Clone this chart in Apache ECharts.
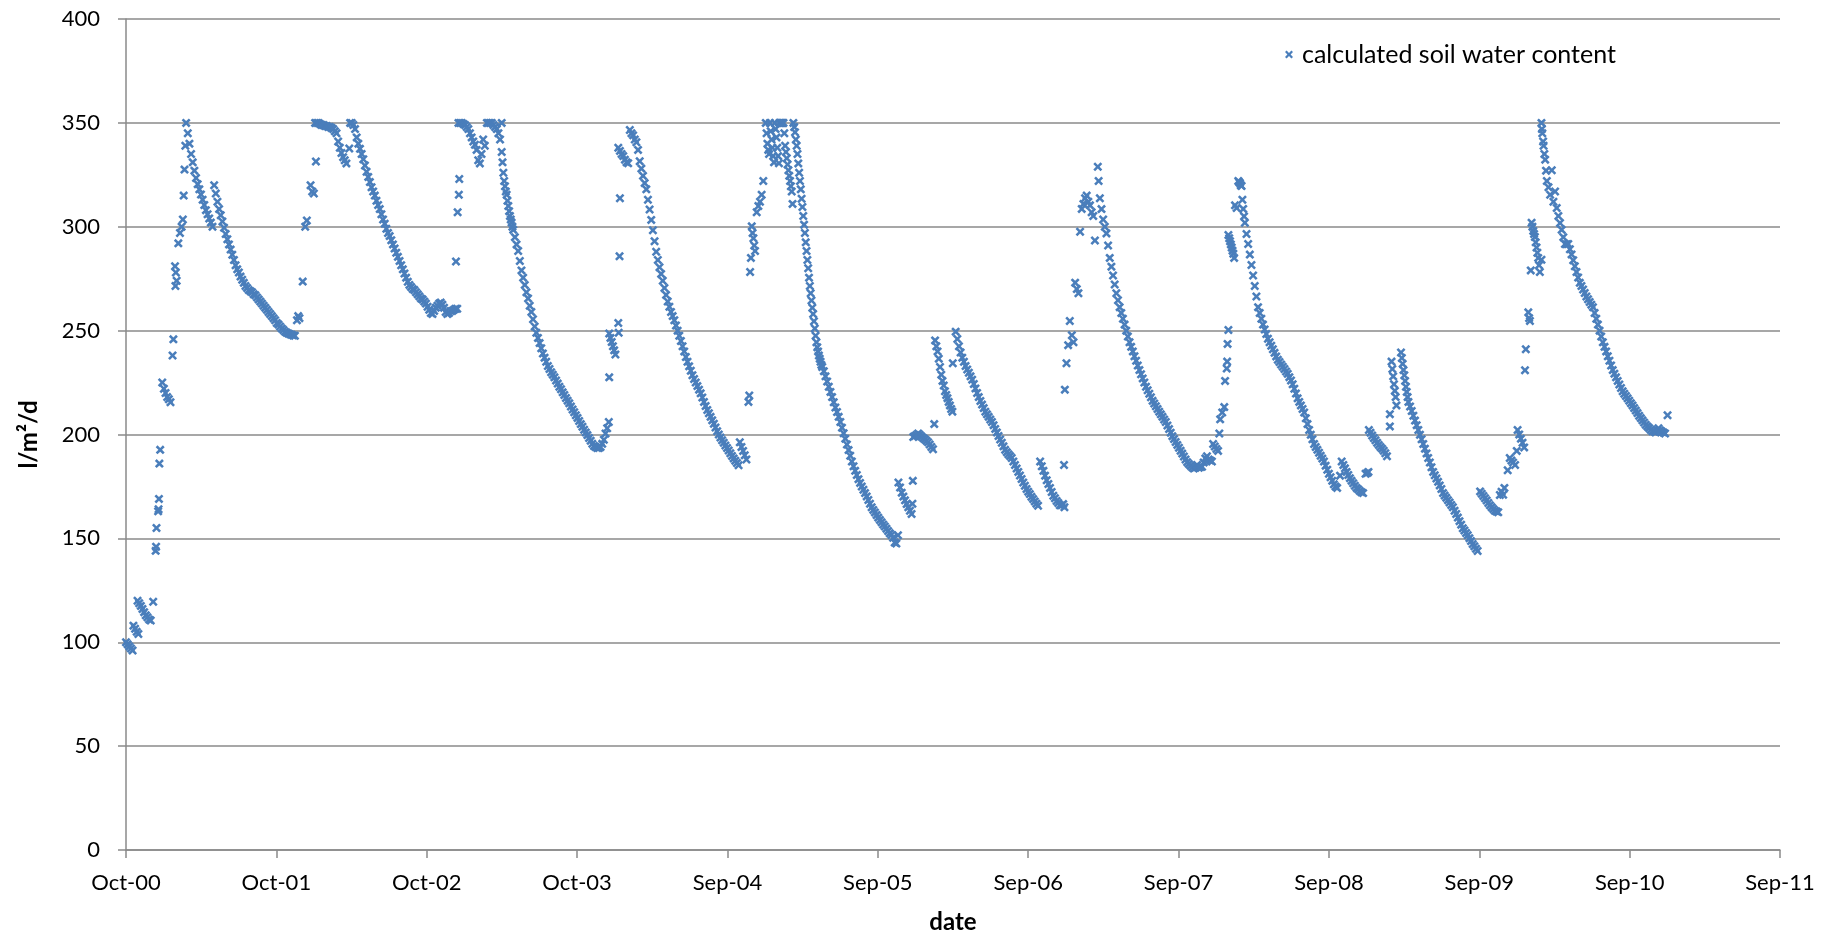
<!DOCTYPE html>
<html>
<head>
<meta charset="utf-8">
<title>calculated soil water content</title>
<script src="https://cdn.jsdelivr.net/npm/echarts@6/dist/echarts.min.js"></script>
<style>
  html, body { margin: 0; padding: 0; background: #ffffff; }
  #chart { width: 1832px; height: 939px; }
</style>
</head>
<body>
<div id="chart"></div>
<script>
// Calculated soil water content (l/m²), one array per hydrological year.
// Each run is [first day, spacing in days, values]; day 0 is 1 Oct 2000.
const wy2001 = [
  [0, 4, [100, 99, 98, 97, 96]],
  [18, 4, [108, 106.5, 105, 104]],
  [28, 4, [120, 118.8, 117.5, 116, 114.5, 113, 112, 111, 110.5]],
  [66, 4, [119.5]],
  [72, 1, [144, 146, 155]],
  [78, 1, [163, 164, 169, 186]],
  [83, 1, [192.6]],
  [88, 4, [225, 222, 220, 218, 217, 215.5]],
  [113, 2, [238, 245.8]],
  [119, 2, [281, 278, 274]],
  [120, 1, [271.5]],
  [127, 4, [292, 297, 300]],
  [138, 2, [303.5, 315, 327.5, 339]],
  [146, 4, [350, 345, 340, 335, 331, 327, 323.5, 320.5, 318, 315.5, 313, 310.5, 308, 306, 304, 302, 300]],
  [214, 4, [320, 316, 312, 308.5, 305.5, 302.5, 299.5, 296.5, 294, 291.5, 289, 286.5, 284, 281.5, 279.5,
            278, 276, 274.5, 273, 271.5, 270.5, 269.5, 269, 268.5, 267.5, 267, 266, 265, 264, 263,
            262, 261, 260, 259, 258, 257, 256, 255, 253.7, 253, 252, 251, 250.3, 249.5, 249,
            248.6, 248.3, 248, 247.7, 247.5]]
];
const wy2002 = [
  [415, 3, [255, 257, 256]],
  [429, 1, [273.6]],
  [435, 4, [300, 303]],
  [448, 4, [320, 317, 316]],
  [461, 1, [331.4]],
  [459, 4, [350, 350, 350, 349.5, 349, 349, 348.5, 348.5, 348, 348, 347.5, 347, 346, 345]],
  [515, 4, [341, 338, 335.5, 333.5, 332, 330.5]],
  [542, 1, [337.7]],
  [544, 4, [350, 350, 349, 347, 343, 340, 337.5, 335, 332.5, 329.5, 326.5, 324, 321.5, 319, 317,
            315, 312.5, 310.5, 308.5, 306, 303.5, 301.5, 299, 297, 295.5, 293.5, 291.5, 289.5, 287.5, 285.5,
            283.5, 281.5, 279.5, 277.5, 275.5, 273.5, 272, 271, 270, 269.5, 268.5, 267.5, 266.5, 265.5, 265,
            264, 263, 261.5, 260, 258.5, 258, 259.5, 261, 262, 263, 263.5, 262.5, 261, 259, 258,
            258.5, 259.5, 259.5, 260, 260.5, 260.5]]
];
const wy2003 = [
  [801, 1, [283.3]],
  [805, 3, [307, 315.4]],
  [809, 1, [323]],
  [807, 4, [350, 350, 350, 349.5, 349, 348, 347, 345, 343, 341, 339.5]],
  [851, 4, [337, 332, 330.5, 335, 342, 339]],
  [876, 4, [350, 350, 350, 350, 349, 348, 347, 345, 342]],
  [912, 1, [350]],
  [912, 2, [336, 331, 326, 322, 319.5, 317, 315.4, 312.5, 310, 307.5, 305.2, 303.5, 302, 300, 298.5]],
  [944, 4, [295, 291.5, 288.3, 283.5, 279, 275.5, 272, 268.5, 265.5, 262, 259, 255.5, 252, 249, 246.5,
            244, 241.5, 239, 237, 235, 233, 231.5, 230, 228.8, 227.5, 226, 224.5, 223, 221.8, 220.3,
            219, 217.6, 216.3, 215, 213.5, 212, 210.7, 209.3, 208, 206.5, 205, 203.7, 202.3, 201, 199.7,
            198.3, 197, 195.5, 194.5, 194, 193.5, 193.5, 194, 195.5, 197.5, 200.5, 203, 206]]
];
const wy2004 = [
  [1173, 1, [227.5]],
  [1173, 3, [248.6, 246.5, 244.5, 242.5, 240.5, 238.5]],
  [1195, 1, [253.7, 249]],
  [1198, 1, [285.8, 313.7]],
  [1195, 4, [338, 336.5, 335, 334, 332.3, 331, 330.6]],
  [1223, 4, [346.6, 345, 344, 342, 340.7, 337]],
  [1247, 4, [331.5, 328, 324.5, 321, 318, 313, 308.3, 303.3, 298.3, 293, 288, 284, 280.5, 277.3, 274,
             270.5, 267.2, 264, 261.5, 259, 257, 255, 252.5, 250, 247.5, 245, 242.5, 240, 237.3, 235,
             232.8, 230.7, 228.5, 226.7, 225, 223.3, 221.6, 219.8, 217.8, 215.7, 213.7, 211.8, 210.2, 208.5, 206.8,
             205.2, 203.4, 201.6, 200, 198.5, 197.2, 196, 194.7, 193.5, 192.3, 191, 189.7, 188.5, 187.4, 186.3,
             185.2]]
];
const wy2005 = [
  [1490, 4, [196.3, 194, 192.1, 190, 188]],
  [1511, 2, [215.7, 218.8, 278.2, 285]],
  [1519, 2, [300.2, 297, 294.5, 291, 288.3]],
  [1531, 4, [307, 310, 312, 315.4, 322]],
  [1553, 2, [350, 345, 340, 337, 335]],
  [1563, 2, [350, 346, 342, 338, 334, 331]],
  [1575, 2, [350, 347, 343, 338, 334, 330.6]],
  [1586, 2, [350, 350, 350, 350, 350, 350]],
  [1598, 2, [345, 339, 336, 333, 330, 327.2, 324.5, 322, 319.5, 317, 311]],
  [1620, 2, [350, 348, 345.5, 342, 339, 335, 330.5, 326, 322, 318, 313.5, 309.5, 305.2, 301, 297,
             292.5, 288.3, 284, 280, 275.5, 271.5, 268, 264.5, 261, 258, 254.5, 251, 247.5, 244.4, 242,
             240, 238, 236.5, 235, 233.5, 232.5]],
  [1694, 4, [230.5, 228, 225.5, 223, 220.5, 218, 215.5, 213, 210.8, 208.5, 206, 203.3, 200.6, 198, 195.2,
             192.5, 189.8, 187, 184.7, 182.5, 180.5, 178.5, 176.7, 175, 173.4, 171.8, 170.2, 168.5, 166.7, 165,
             163.7, 162.5, 161.2, 160, 158.9, 157.8, 156.7, 155.7, 154.6, 153.5, 152.5, 151.6, 150.3, 148, 147.5,
             151.5]]
];
const wy2006 = [
  [1875, 4, [176.9, 174.5, 172, 170.1, 168.3, 166.5, 165, 163.3, 161.7]],
  [1909, 1, [166.7, 177.7]],
  [1911, 4, [198.8, 199.3, 199.8, 200.5, 199.8, 199, 198.3, 197.7, 197, 196.3, 195.2, 194, 192.9]],
  [1962, 1, [205]],
  [1964, 3, [245.3, 242.5, 240, 236.5, 232.5, 228.8, 225.8, 223.6, 220.8, 219, 217.5, 215.7, 214, 212.3, 211]],
  [2007, 1, [234.3]],
  [2014, 4, [249.5, 246, 242.5, 239.5, 237, 235, 233, 231.3, 229.7, 228, 226.4, 224.3, 222.2, 220, 218,
             216.1, 214.4, 212.7, 211, 209.7, 208.5, 207.2, 206, 204.5, 202.7, 201, 199.3, 197.6, 196, 194.3,
             192.6, 191.5, 190.5, 189.6, 188.7, 187, 185.3, 183.6, 182, 180.3, 178.6, 176.9, 175.3, 173.8, 172.5,
             171.3, 170, 168.9, 167.8, 166.7, 165.7]]
];
const wy2007 = [
  [2219, 4, [187, 184.7, 182.5, 180.2, 178, 176.2, 174.3, 172.3, 170.5, 169.3, 168, 167, 165.9, 165.9, 166.5]],
  [2278, 1, [165]],
  [2277, 2, [185.3, 221.6]],
  [2283, 4, [234.3, 243, 254.6]],
  [2296, 4, [247.8, 244.4]],
  [2304, 4, [273.1, 270, 268]],
  [2316, 1, [297.6]],
  [2320, 4, [308.6, 311, 313.7, 315, 312, 310.3, 307, 305.2]],
  [2352, 1, [293.4]],
  [2359, 2, [328.9, 322]],
  [2364, 4, [313.7, 308.5, 303.5, 300, 296.8, 291, 285, 280.8, 276.5, 272.2, 268, 264.6, 261.3, 258.5, 255.7,
             252.9, 250, 247.2, 244.4, 242.2, 240, 237.7, 235.5, 233.2, 231, 229, 227, 225, 223, 221.3,
             219.6, 217.9, 216.2, 214.9, 213.6, 212.3, 211, 209.7, 208.5, 207.2, 206, 204.3, 202.6, 200.9, 199.2,
             197.8, 196.4, 195, 193.6, 192.2, 190.8, 189.4, 188, 186.7, 185.8, 185, 184.2, 183.6]],
  [2596, 4, [184, 185.3, 184, 184.3, 184.5, 186.5, 188.5, 189.5, 188, 187.5, 187]]
];
const wy2008 = [
  [2639, 4, [195.4, 194.2, 193, 192.1]],
  [2654, 2, [200.5, 207.3]],
  [2661, 5, [210.6, 213.2]],
  [2668, 4, [225.8, 231.8]],
  [2673, 1, [235.1, 243.6]],
  [2676, 1, [250.3]],
  [2676, 2, [296, 294.5, 293, 291.5, 290, 288.5, 287, 285]],
  [2692, 4, [310.3, 309]],
  [2700, 2, [322, 321.5, 321, 320, 319.6]],
  [2710, 2, [313, 308.6, 305, 301.9]],
  [2720, 4, [296.5, 291.7, 286.6, 281.6, 276.5, 271.5, 266.4, 261.3, 258.5, 255.7, 252.9, 250.6, 248.4, 246.1, 244.4,
             242.7, 241, 239.3, 237.6, 236, 234.9, 233.7, 232.6, 231.5, 230.3, 229.2, 227.6, 226, 224.2, 222,
             219.7, 217.4, 215.7, 214, 212.3, 210.6, 207.8, 205, 202.2, 199.9, 197.7, 195.4, 194, 192.6, 191.2,
             189.8, 188.4, 187, 185, 183, 181.1, 179.4, 177.7, 176, 175, 174.3]]
];
const wy2009 = [
  [2947, 1, [180.2]],
  [2951, 4, [187, 185.3, 183.7, 182, 180.5, 179, 177.7, 176.5, 175.3, 174.3, 173.6, 172.8, 172.2, 171.8]],
  [3009, 4, [181.1, 181.5]],
  [3016, 1, [182]],
  [3017, 4, [202.2, 200.9, 199.5, 198.3, 197.2, 196, 195, 194, 193.2, 192.2, 191, 189.5]],
  [3068, 1, [203.9]],
  [3068, 1, [209.8]],
  [3072, 2, [235.1, 231.5, 228, 224.2, 221, 218, 214]],
  [3095, 2, [239.5, 236.8, 234, 231, 228.5, 225.8, 223, 220.5, 218, 215.7]],
  [3117, 4, [213.5, 211.3, 209, 206.7, 204.5, 202.2, 199.9, 197.7, 195.4, 193.2, 190.9, 188.7, 186.5, 184.2, 182,
             180.4, 178.8, 177.2, 175.5, 173.8, 171.8, 170.6, 169.5, 168.4, 167.3, 166.1, 165, 163.3, 161.7, 160,
             158.3, 156.6, 154.9, 153.8, 152.6, 151.5, 150.1, 148.7, 147.3, 146.2, 145, 143.9]]
];
const wy2010 = [
  [3287, 4, [172.6, 171.5, 170.4, 169.3, 168.2, 167, 165.9, 165, 164.1, 163.3, 162.9, 162.6]],
  [3335, 4, [170.9, 172.5]],
  [3343, 3, [171, 174.3]],
  [3354, 1, [182.8]],
  [3359, 4, [188.7, 187.5, 186.5]],
  [3372, 1, [185.3]],
  [3376, 1, [192.1]],
  [3378, 4, [202.2, 200, 198, 196, 193.8]],
  [3396, 2, [230.9, 241]],
  [3404, 2, [258.8, 256, 254.6, 279]],
  [3412, 2, [301.9, 300, 298, 296.5, 295.1, 292.5, 290, 287.5, 285, 281.5, 278.2]],
  [3436, 1, [284.1]],
  [3436, 1, [350, 347, 345]],
  [3440, 1, [341, 339]],
  [3443, 2, [335, 332.3, 327, 322]],
  [3453, 4, [319, 315.4, 327.2, 312, 317]],
  [3473, 4, [309, 305.2, 301.8, 298.5, 295, 291.7, 291.6, 291.7, 289.2, 286.7, 283.9, 281, 278.2, 275.6, 273,
             271.5, 269.8, 268.1, 266.4, 265.1, 263.8, 262.5, 261.3, 258.5, 255.7, 252.9, 250, 247.2, 244.4, 242.2,
             240, 237.7, 235.5, 233.2, 231, 229.3, 227.5, 225.8, 224.1, 222.4, 220.8, 219.6, 218.5, 217.4, 216.3,
             215.1, 214, 212.7, 211.5, 210.3, 209, 207.9, 206.8, 205.8, 204.7, 203.9, 203.1, 202.3, 201.6]]
];
const wy2011 = [
  [3709, 4, [201.4, 201, 202]],
  [3720, 4, [203, 202, 201.4, 201, 200.5]],
  [3742, 1, [209.3]]
];

// Date axis: one tick every 365 days starting 1 Oct 2000
const dateTicks = ['Oct-00', 'Oct-01', 'Oct-02', 'Oct-03', 'Sep-04', 'Sep-05',
                   'Sep-06', 'Sep-07', 'Sep-08', 'Sep-09', 'Sep-10', 'Sep-11'];
const dayStep = 365;
const valueTicks = { min: 0, max: 400, step: 50 };
const seriesName = 'calculated soil water content';

// Expand the runs into [day, value] points
function expand(runs) {
  const out = [];
  runs.forEach(([start, step, values]) => {
    values.forEach((v, i) => out.push([start + i * step, v]));
  });
  return out;
}
const points = [wy2001, wy2002, wy2003, wy2004, wy2005, wy2006,
                wy2007, wy2008, wy2009, wy2010, wy2011].flatMap(expand);

// Cross-shaped marker
const crossMark = 'path://M0,2 L2,0 L5,3 L8,0 L10,2 L7,5 L10,8 L8,10 L5,7 L2,10 L0,8 L3,5 Z';
const blue = '#4a7ebb';
const gridGray = '#8a8a8a';
const font = 'Lato, Carlito, Calibri, "Open Sans", sans-serif';

const chart = echarts.init(document.getElementById('chart'), null, { renderer: 'canvas' });
chart.setOption({
  backgroundColor: '#ffffff',
  animation: false,
  grid: { left: 126, right: 52, top: 19, bottom: 89 },
  legend: {
    data: [seriesName],
    left: 1285, top: 42,
    padding: 0,
    itemGap: 10,
    icon: crossMark,
    itemWidth: 8, itemHeight: 8,
    textStyle: { fontFamily: font, fontSize: 25, color: '#000', padding: [0, 0, 0, 4] }
  },
  xAxis: {
    type: 'value',
    min: 0,
    max: dayStep * (dateTicks.length - 1),
    interval: dayStep,
    name: 'date',
    nameLocation: 'middle',
    nameGap: 60,
    nameTextStyle: { fontFamily: font, fontSize: 24, fontWeight: 'bold', color: '#000' },
    axisLine: { show: true, lineStyle: { color: gridGray, width: 1.5 } },
    axisTick: { show: true, inside: false, length: 8, lineStyle: { color: gridGray, width: 1.5 } },
    axisLabel: {
      margin: 22,
      fontFamily: font, fontSize: 22, color: '#000',
      formatter: v => dateTicks[Math.round(v / dayStep)]
    },
    splitLine: { show: false }
  },
  yAxis: {
    type: 'value',
    min: valueTicks.min, max: valueTicks.max, interval: valueTicks.step,
    name: 'l/m²/d',
    nameLocation: 'middle',
    nameRotate: 90,
    nameGap: 85,
    nameTextStyle: { fontFamily: font, fontSize: 24, fontWeight: 'bold', color: '#000' },
    axisLine: { show: true, lineStyle: { color: gridGray, width: 1.5 } },
    axisTick: { show: true, inside: false, length: 8, lineStyle: { color: gridGray, width: 1.5 } },
    axisLabel: { margin: 26, fontFamily: font, fontSize: 22, color: '#000' },
    splitLine: { show: true, lineStyle: { color: gridGray, width: 1.5 } }
  },
  series: [{
    name: seriesName,
    type: 'scatter',
    data: points,
    symbol: crossMark,
    symbolSize: 9,
    itemStyle: { color: blue, opacity: 1 },
    emphasis: { disabled: true }
  }]
});
</script>
</body>
</html>
